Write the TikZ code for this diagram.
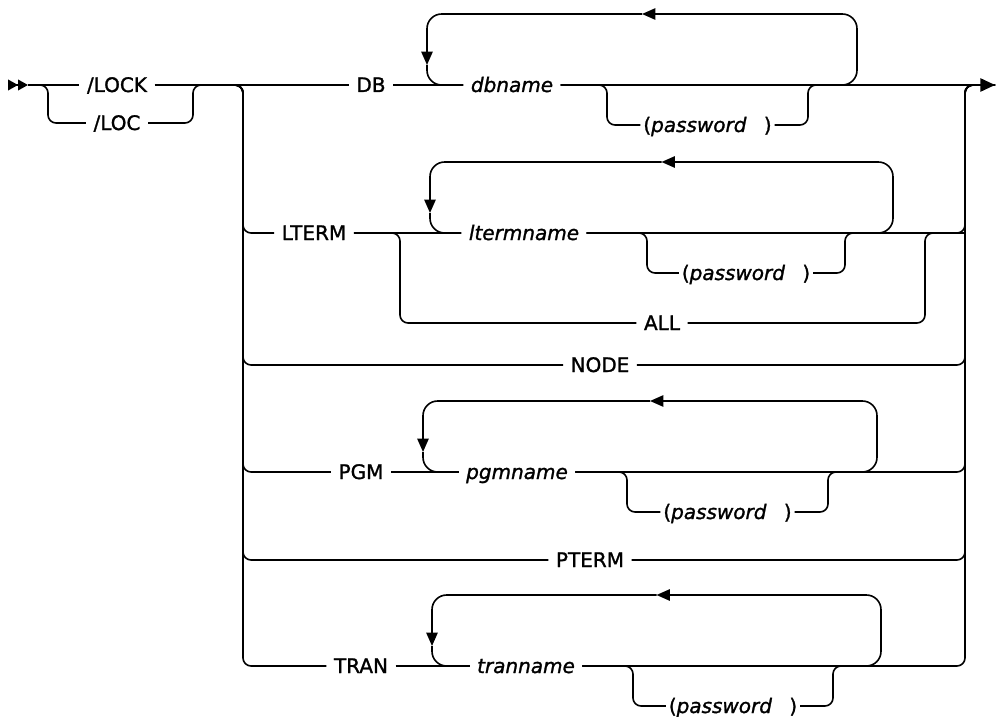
\documentclass[tikz,border=0pt]{standalone}
\usepackage{fontspec}
\setmainfont{DejaVu Sans}[RawFeature={embolden=1.3}]
\usetikzlibrary{arrows.meta}

\tikzset{
  rail/.style={line width=1.2pt, rounded corners=6pt},
  railbend/.style={rail, rounded corners=11pt},
  loopback/.style={railbend, -{Triangle[length=10pt,width=8.5pt]}},
  kw/.style={font=\fontsize{15}{17}\selectfont, text height=11.5pt, text depth=1pt, inner xsep=5.5pt, inner ysep=0pt},
  var/.style={kw, font=\fontsize{15}{17}\selectfont\itshape},
  pw/.style={kw, inner xsep=2pt},
}

\begin{document}
\begin{tikzpicture}[x=0.75pt, y=-0.75pt]
\useasboundingbox (0,0) rectangle (996,717);

% Entry: /LOCK or /LOC
\coordinate (entry) at (8,85);
\coordinate (start) at (28,85);
\coordinate (lf) at (48,123);
\coordinate (rj) at (193,85);
\coordinate (col) at (228,85);
\coordinate (exit) at (995,85);
\node[kw] (lock) at (117,85) {/LOCK};
\node[kw] (loc) at (117,123) {/LOC};
\draw[rail, -{Triangle[length=7.5pt,width=8pt]Triangle[length=7.5pt,width=8pt]}] (entry) -- (start);
\draw[rail] (start) -- (lock.west);
\draw[rail] (start) -| (lf) -- (loc.west);
\draw[rail] (loc.east) -| (rj) -- (col);

% Keywords
\node[kw] (db) at (371,85) {DB};
\node[kw] (lterm) at (314,233) {LTERM};
\node[kw] (all) at (662,323) {ALL};
\node[kw] (nd) at (600,365) {NODE};
\node[kw] (pgm) at (361,472) {PGM};
\node[kw] (pterm) at (590,560) {PTERM};
\node[kw] (tran) at (361,666) {TRAN};

% Repeatable names, each with an optional password
\foreach \nm/\y/\xa/\xn/\xp/\xq/\xr in {db/85/427/512/607/808/857, lterm/233/430/524/647/845/893,
    pgm/472/423/517/627/828/877, tran/666/432/526/633/833/881} {
  \node[var] (\nm-var) at (\xn,\y) {\nm{}name};
  \node[pw] (\nm-pw) at ({(\xp+\xq)/2},\y+40) {(\textit{password}\hspace{13pt})};
  \coordinate (\nm-top) at (\xr,\y-71);
  \coordinate (\nm-mid) at ({(\xa+\xr)/2},\y-71);
  \coordinate (\nm-dn) at (\xa,\y-20);
  \coordinate (\nm-bl) at (\xp,\y+40);
  \coordinate (\nm-br) at (\xq,\y);
  \coordinate (\nm-out) at (\xr,\y);
  \draw[loopback] (\nm-var.east) -| (\nm-top) -- (\nm-mid);
  \draw[loopback] (\nm-mid) -| (\nm-dn);
  \draw[railbend] (\nm-dn) |- (\nm-var.west);
  \draw[rail] (\nm-var.east) -| (\nm-bl) -- (\nm-pw.west);
  \draw[rail] (\nm-pw.east) -| (\nm-br) -- (\nm-out);
}

% Main line
\draw[rail] (lock.east) -- (db.west);
\foreach \k in {db, lterm, pgm, tran} \draw[rail] (\k.east) -- (\k-var.west);
\draw[rail, -{Triangle[length=11pt,width=10pt]}] (db-var.east) -- (exit);

% Alternatives column
\foreach \k/\y in {lterm/233, nd/365, pgm/472, pterm/560, tran/666} {
  \coordinate (l-\k) at (243,\y);
  \coordinate (r-\k) at (965,\y);
  \draw[rail] (col) -| (l-\k) -- (\k.west);
}
\foreach \k/\o in {lterm/lterm-var, nd/nd, pgm/pgm-var, pterm/pterm, tran/tran-var}
  \draw[rail] (\o.east) -- (r-\k) |- (exit);

% ALL instead of ltermname
\coordinate (all-l) at (400,323);
\coordinate (all-r) at (925,233);
\draw[rail] (lterm.east) -| (all-l) -- (all.west);
\draw[rail] (all.east) -| (all-r) -- (r-lterm);
\end{tikzpicture}
\end{document}
